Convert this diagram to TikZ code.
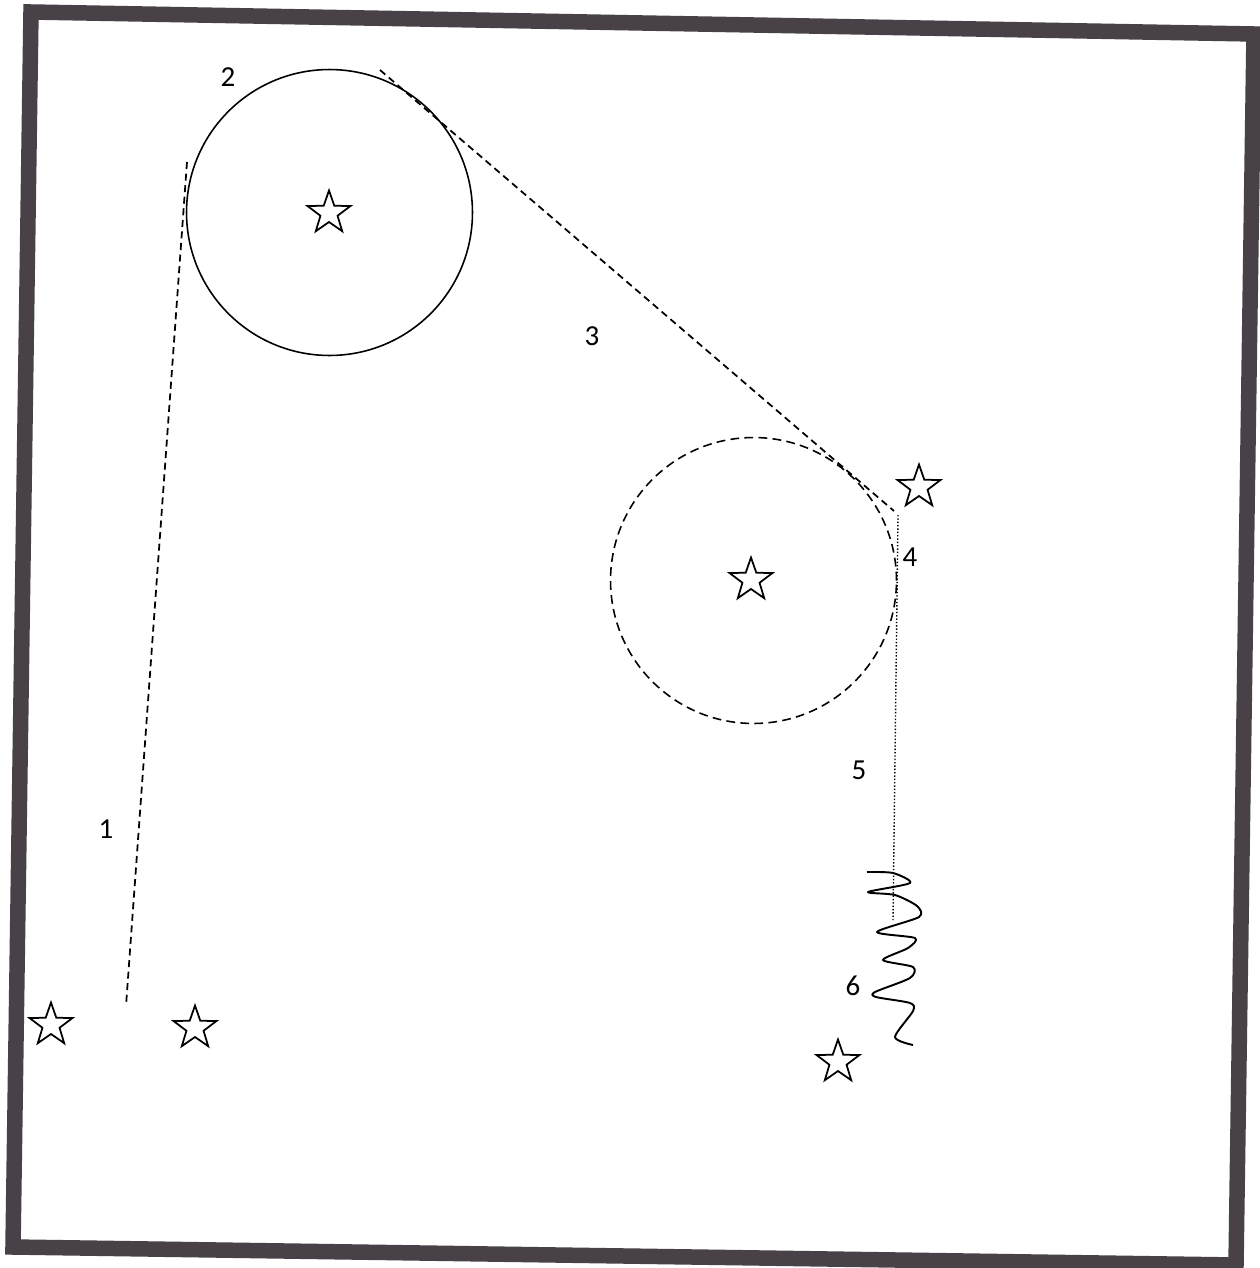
\documentclass[tikz,border=0pt]{standalone}
\usepackage{fontspec}
\setmainfont{Carlito}
\usetikzlibrary{shapes.geometric}
\begin{document}
\begin{tikzpicture}[x=0.02cm,y=-0.02cm,
  frame/.style={line width=0.31cm,draw={rgb,255:red,72;green,66;blue,72},line join=miter},
  starnode/.style={star,star points=5,star point ratio=2.5,draw,line width=1pt,minimum size=0.9cm,inner sep=0pt},
  bigcirc/.style={circle,minimum size=5.72cm,inner sep=0pt,line width=0.9pt},
  lbl/.style={font=\fontsize{16.5}{18}\selectfont,inner sep=0pt},
  dashline/.style={line width=1pt,dash pattern=on 4pt off 2.6pt},
  dotline/.style={line width=0.8pt,dash pattern=on 0.8pt off 1.1pt},
  wave/.style={line width=1.1pt,line join=round}]
\useasboundingbox (0,0) rectangle (1259,1268);
\fill[white] (0,0) rectangle (1259,1268);
% frame
\draw[frame] (31,12) -- (1254,34) -- (1236,1265) -- (13,1247) -- cycle;
% circles
\node[bigcirc,draw] (c1) at (329.5,212.5) {};
\node[bigcirc,draw,dash pattern=on 5pt off 3pt] (c2) at (753.5,580.5) {};
% stars
\node[starnode] (s1) at (329,213) {};
\node[starnode] (s2) at (751,580) {};
\node[starnode] (s3) at (919,487) {};
\node[starnode] (s4) at (51,1025) {};
\node[starnode] (s5) at (195,1028) {};
\node[starnode] (s6) at (838,1062) {};
% coordinates
\coordinate (a1) at (187,162);
\coordinate (a2) at (126,1006);
\coordinate (b1) at (380,70);
\coordinate (b2) at (894,511);
\coordinate (d1) at (898,515);
\coordinate (d2) at (893,920);
% lines
\draw[dashline] (a1) -- (a2);
\draw[dashline] (b1) -- (b2);
\draw[dotline] (d1) -- (d2);
% wave
\draw[wave] plot[smooth,tension=0.45] coordinates {
 (867,872) (893,873) (910,883) (868,892) (895,895) (917,906) (919,917)
 (877,932) (915,938) (908,948) (883,960) (913,967) (910,978)
 (875,992) (876,997) (910,1003) (913,1011) (895,1037) (913,1045)};
% labels
\node[lbl] (l1) at (106,829) {1};
\node[lbl] (l2) at (228,77) {2};
\node[lbl] (l3) at (592,336) {3};
\node[lbl] (l4) at (910,557) {4};
\node[lbl] (l5) at (859,770) {5};
\node[lbl] (l6) at (853,986) {6};
\end{tikzpicture}
\end{document}
